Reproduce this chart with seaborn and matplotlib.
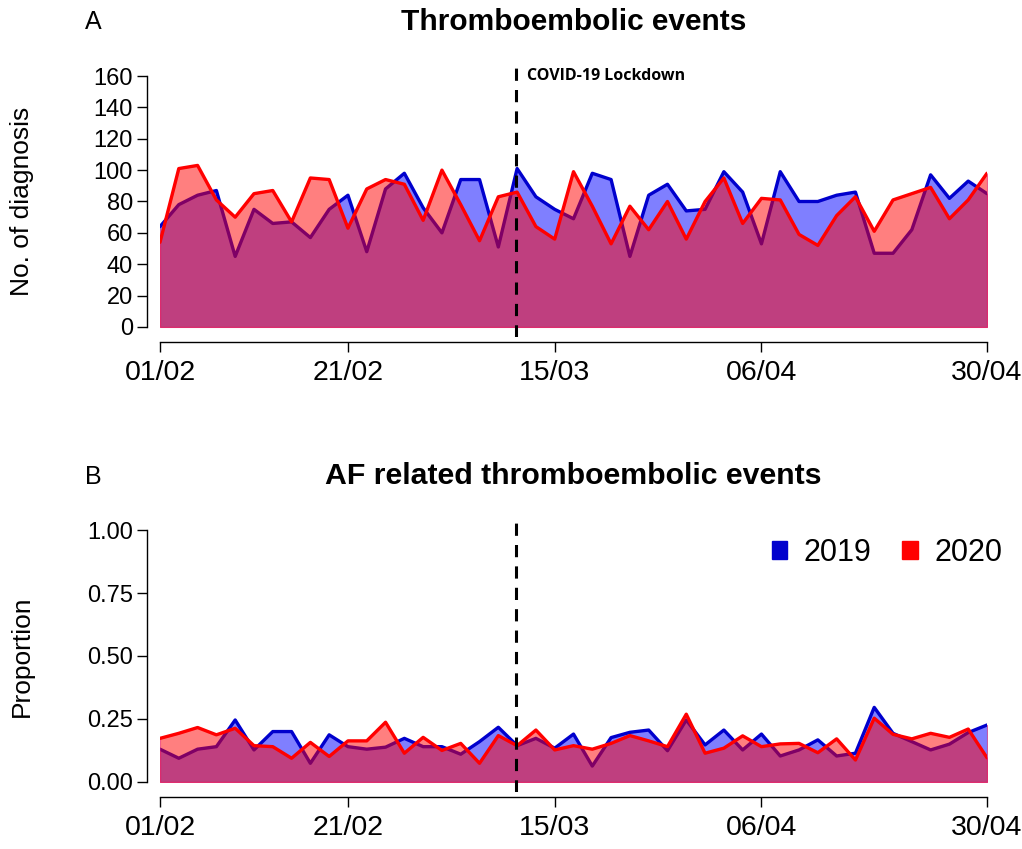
import numpy as np
import pandas as pd
import matplotlib
matplotlib.use("Agg")
import matplotlib.pyplot as plt
from matplotlib.patches import Patch
import seaborn as sns

# ---------------- data ----------------
days = list(range(0, 89, 2))  # every 2 days from 01/02 to 30/04
tick_pos = [0, 20, 42, 64, 88]
tick_labels = ["01/02", "21/02", "15/03", "06/04", "30/04"]
lockdown_day = 37.9

events_2019 = [64, 78, 84, 87, 45, 75, 66, 67, 57, 75, 84, 48, 88, 98, 76, 60, 94, 94, 51, 101,
               83, 75, 69, 98, 94, 45, 84, 91, 74, 75, 99, 86, 53, 99, 80, 80, 84, 86, 47, 47,
               62, 97, 82, 93, 85]
events_2020 = [54, 101, 103, 81, 70, 85, 87, 67, 95, 94, 63, 88, 94, 91, 68, 100, 78, 55, 83, 86,
               64, 56, 99, 77, 53, 77, 62, 80, 56, 80, 95, 66, 82, 81, 59, 52, 71, 83, 61, 81,
               85, 89, 69, 81, 98]

af_2019 = [0.130, 0.094, 0.130, 0.140, 0.246, 0.127, 0.200, 0.200, 0.074, 0.187, 0.140, 0.130,
           0.138, 0.173, 0.140, 0.140, 0.110, 0.160, 0.217, 0.144, 0.173, 0.134, 0.190, 0.063,
           0.176, 0.197, 0.206, 0.124, 0.246, 0.147, 0.206, 0.127, 0.190, 0.103, 0.127, 0.167,
           0.103, 0.114, 0.296, 0.193, 0.160, 0.127, 0.150, 0.196, 0.226]
af_2020 = [0.173, 0.193, 0.216, 0.187, 0.213, 0.144, 0.140, 0.094, 0.157, 0.101, 0.163, 0.163,
           0.237, 0.114, 0.177, 0.125, 0.153, 0.074, 0.184, 0.144, 0.206, 0.127, 0.144, 0.130,
           0.153, 0.184, 0.163, 0.140, 0.269, 0.114, 0.134, 0.183, 0.140, 0.151, 0.153, 0.116,
           0.171, 0.087, 0.253, 0.189, 0.171, 0.193, 0.177, 0.210, 0.096]

# ---------------- style ----------------
sns.set_style("white")
plt.rcParams['font.family'] = ['Liberation Sans', 'DejaVu Sans']
plt.rcParams['text.color'] = 'black'
plt.rcParams['axes.labelcolor'] = 'black'
plt.rcParams['xtick.color'] = 'black'
plt.rcParams['ytick.color'] = 'black'

BLUE_LINE = "#0000cd"
RED_LINE = "#ff0000"
BLUE_FILL = (0.0, 0.0, 1.0, 0.5)
RED_FILL = (1.0, 0.0, 0.0, 0.5)

W, H = 1022, 849
fig = plt.figure(figsize=(W / 100, H / 100), dpi=100)


def axes_px(left, right, top, bottom):
    return fig.add_axes([left / W, 1 - bottom / H, (right - left) / W, (bottom - top) / H])


def draw_panel(ax, v2019, v2020, ymax, yticks, ytlabels):
    df = pd.DataFrame({"day": days, "y2019": v2019, "y2020": v2020})
    ax.fill_between(df["day"], 0, df["y2019"], facecolor=BLUE_FILL,
                    edgecolor=(0.8, 0.1, 0.4, 0.6), linewidth=0.8, zorder=1)
    sns.lineplot(data=df, x="day", y="y2019", color=BLUE_LINE, linewidth=2.4, ax=ax, zorder=2)
    ax.fill_between(df["day"], 0, df["y2020"], facecolor=RED_FILL,
                    edgecolor=(0.9, 0.1, 0.4, 0.6), linewidth=0.8, zorder=3)
    sns.lineplot(data=df, x="day", y="y2020", color=RED_LINE, linewidth=2.4, ax=ax, zorder=4)
    pad = 0.04 * ymax
    ax.set_xlim(0, 88)
    ax.set_ylim(-pad, ymax + pad)
    ax.axvline(lockdown_day, color="black", linestyle=(0, (4, 3)), linewidth=2.2, zorder=5)
    for s in ["top", "right"]:
        ax.spines[s].set_visible(False)
    ax.spines["left"].set_position(("outward", 9.4))
    ax.spines["bottom"].set_position(("outward", 3.6))
    ax.spines["left"].set_bounds(0, ymax)
    ax.spines["bottom"].set_bounds(0, 88)
    for s in ["left", "bottom"]:
        ax.spines[s].set_color("black")
        ax.spines[s].set_linewidth(1.0)
    ax.set_xticks(tick_pos)
    ax.set_xticklabels(tick_labels)
    ax.set_yticks(yticks)
    ax.set_yticklabels(ytlabels)
    ax.tick_params(axis="both", which="major", length=7, width=1.0, color="black",
                   direction="out", left=True, bottom=True)
    ax.tick_params(axis="x", pad=6, labelsize=20.5)
    ax.tick_params(axis="y", pad=3, labelsize=17)
    ax.set_xlabel("")
    ax.set_ylabel("")


# ---------------- panel A ----------------
axA = axes_px(160, 987, 66, 337)
draw_panel(axA, events_2019, events_2020, 160, list(range(0, 161, 20)),
           [str(v) for v in range(0, 161, 20)])
axA.text(lockdown_day + 1.1, 160, "COVID-19 Lockdown", fontsize=11.5, fontweight="bold",
         family=["Open Sans", "DejaVu Sans"], ha="left", va="center")

fig.text(574 / W, 1 - 22 / H, "Thromboembolic events", fontsize=21.5, fontweight="bold",
         ha="center", va="center")
fig.text(93 / W, 1 - 22 / H, "A", fontsize=18, ha="center", va="center")
fig.text(22 / W, 1 - 201 / H, "No. of diagnosis", fontsize=19, rotation=90,
         ha="center", va="center")

# ---------------- panel B ----------------
axB = axes_px(160, 987, 520, 792)
draw_panel(axB, af_2019, af_2020, 1.0, [0, 0.25, 0.5, 0.75, 1.0],
           ["0.00", "0.25", "0.50", "0.75", "1.00"])

fig.text(573 / W, 1 - 476 / H, "AF related thromboembolic events", fontsize=21.8,
         fontweight="bold", ha="center", va="center")
fig.text(93 / W, 1 - 477 / H, "B", fontsize=18, ha="center", va="center")
fig.text(22 / W, 1 - 656 / H, "Proportion", fontsize=19, rotation=90,
         ha="center", va="center")

handles = [Patch(facecolor=BLUE_LINE, edgecolor=BLUE_LINE), Patch(facecolor=RED_LINE, edgecolor=RED_LINE)]
fig.legend(handles, ["2019", "2020"], ncol=2, frameon=False, fontsize=22,
           handlelength=0.5, handleheight=0.5, handletextpad=0.55, columnspacing=1.0,
           loc="center right", bbox_to_anchor=(1030 / W, 1 - 553 / H))

fig.savefig("out.png", dpi=100)
